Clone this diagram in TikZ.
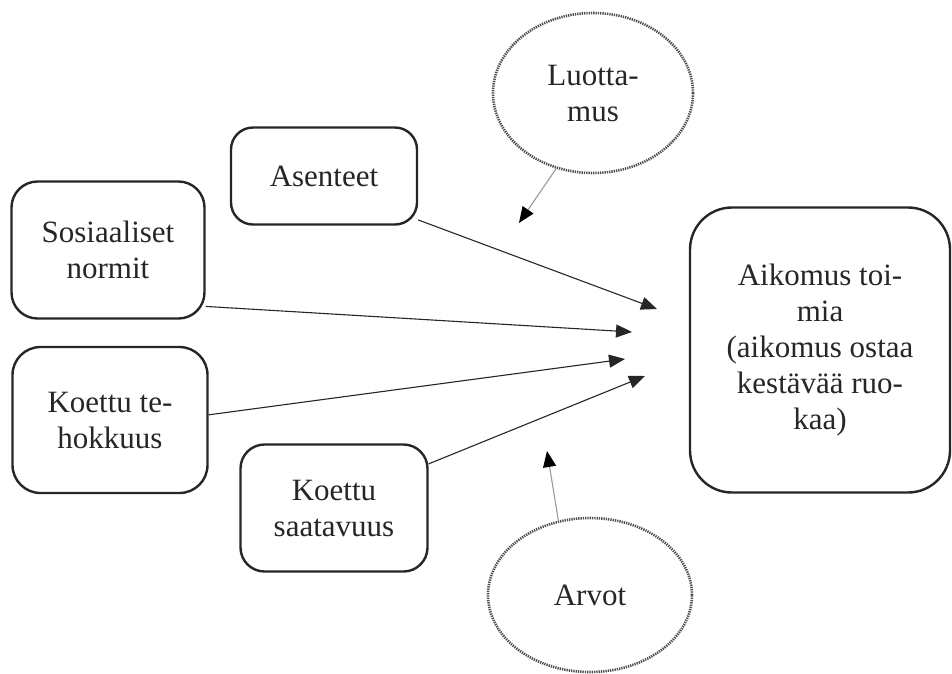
\documentclass[tikz,border=0pt]{standalone}
\usepackage{fontspec}
\setmainfont{Liberation Serif}
\usetikzlibrary{arrows.meta,shapes.geometric}
\begin{document}
\begin{tikzpicture}[x=1pt,y=-1pt,
  box/.style={draw=black!85, line width=2.4pt, rounded corners=22pt, inner sep=0pt, align=center,
    font=\fontsize{31}{36}\selectfont, text=black!85},
  oval/.style={ellipse, draw=black!70, line width=2.6pt, dash pattern=on 1.3pt off 1.0pt, inner sep=0pt, align=center,
    font=\fontsize{31}{36}\selectfont, text=black!85},
  conn/.style={line width=1.1pt, draw=black!85, -{Triangle[length=16pt,width=13pt]}},
  grayconn/.style={line width=1.1pt, draw=black!40, -{Triangle[length=16pt,width=13pt,fill=black,color=black]}}
]
\useasboundingbox (0,0) rectangle (952,673);

\node[box, minimum width=186pt, minimum height=97pt] (as) at (324,176) {Asenteet};
\node[box, minimum width=193pt, minimum height=137pt, rounded corners=26pt] (sn) at (108,250) {Sosiaaliset\\normit};
\node[box, minimum width=195pt, minimum height=146pt, rounded corners=28pt] (kt) at (110,420) {Koettu te-\\hokkuus};
\node[box, minimum width=187pt, minimum height=127pt, rounded corners=24pt] (ks) at (334,508) {Koettu\\saatavuus};
\node[box, minimum width=260pt, minimum height=285pt, rounded corners=42pt] (ai) at (820,350) {Aikomus toi-\\mia\\(aikomus ostaa\\kestävää ruo-\\kaa)};

\node[oval, minimum width=200pt, minimum height=160pt] (lu) at (593,93) {Luotta-\\mus};
\node[oval, minimum width=204pt, minimum height=154pt] (ar) at (590,595) {Arvot};

\coordinate (t1) at (657,309);
\coordinate (t2) at (632,332);
\coordinate (t3) at (625,359);
\coordinate (t4) at (645,376);
\coordinate (t5) at (519,223);
\coordinate (t6) at (547,451);

\draw[conn] (as.-25) -- (t1);
\draw[conn] (sn.-30) -- (t2);
\draw[conn] (kt.3) -- (t3);
\draw[conn] (ks.25) -- (t4);
\draw[grayconn] (lu.244) -- (t5);
\draw[grayconn] (ar.113) -- (t6);
\end{tikzpicture}
\end{document}
